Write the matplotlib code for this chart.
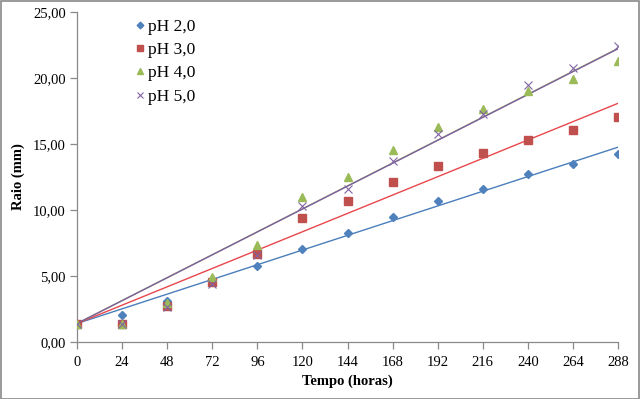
import numpy as np
import matplotlib
matplotlib.use("Agg")
import matplotlib.pyplot as plt
from matplotlib.ticker import FuncFormatter

hours = [0, 24, 48, 72, 96, 120, 144, 168, 192, 216, 240, 264, 288]
ph20 = [1.40, 2.07, 3.13, 4.62, 5.76, 7.02, 8.28, 9.44, 10.71, 11.57, 12.70, 13.51, 14.27]
ph30 = [1.40, 1.40, 2.75, 4.52, 6.69, 9.39, 10.68, 12.12, 13.36, 14.32, 15.28, 16.03, 17.07]
ph40 = [1.40, 1.40, 2.98, 4.95, 7.37, 10.96, 12.52, 14.55, 16.31, 17.65, 19.04, 19.95, 21.31]
ph50 = [1.40, 1.40, 2.68, 4.37, 6.60, 10.30, 11.61, 13.71, 15.76, 17.27, 19.47, 20.73, 22.42]
labels = ["pH 2,0", "pH 3,0", "pH 4,0", "pH 5,0"]
intercept = 1.40

plt.rcParams['font.family'] = ['Liberation Serif', 'DejaVu Serif']

fig = plt.figure(figsize=(6.4, 3.99), dpi=100)
ax = fig.add_axes([77/640, 1-342/399, (618-77)/640, (342-12)/399])

mcolors = ['#4F81BD', '#C0504D', '#9BBB59', '#8064A2']
lcolors = ['#4A7EBB', '#E8474B', '#98B954', '#7E5FA3']
markers = ['D', 's', '^', 'x']
msizes = [4.2, 5.5, 5.5, 5.5]
x = np.array(hours, dtype=float)
series = [ph20, ph30, ph40, ph50]
order = [0, 1, 2, 3]
for i in order:
    y = np.array(series[i])
    slope = np.sum(x * (y - intercept)) / np.sum(x * x)
    xx = np.array([0, 288.0])
    ax.plot(xx, intercept + slope * xx, color=lcolors[i], lw=1.0, zorder=2)
for i in order:
    if markers[i] == 'x':
        ax.plot(hours, series[i], linestyle='none', marker='x', ms=msizes[i],
                mew=0.8, color=mcolors[i], label=labels[i], zorder=3)
    else:
        ax.plot(hours, series[i], linestyle='none', marker=markers[i], ms=msizes[i],
                mec=mcolors[i], mfc=mcolors[i], color=mcolors[i], label=labels[i], zorder=3)

ax.set_xlim(0, 288)
ax.set_ylim(0, 25)
ax.set_xticks(hours)
ax.set_yticks([0, 5, 10, 15, 20, 25])
ax.yaxis.set_major_formatter(FuncFormatter(lambda v, p: f"{v:.2f}".replace('.', ',')))
for s in ['top', 'right']:
    ax.spines[s].set_visible(False)
for s in ['left', 'bottom']:
    ax.spines[s].set_color('#898989')
    ax.spines[s].set_linewidth(0.9)
ax.tick_params(axis='both', direction='out', length=5, width=0.9, color='#898989',
               labelsize=10.5, labelcolor='black')
ax.tick_params(axis='x', pad=5)
ax.tick_params(axis='y', pad=3)
ax.set_xlabel("Tempo (horas)", fontsize=10.5, fontweight='bold', labelpad=4)
ax.set_ylabel("Raio (mm)", fontsize=10.5, fontweight='bold', labelpad=6)

leg = ax.legend(loc='upper left', bbox_to_anchor=(48/541, 1.012), frameon=False,
                fontsize=12.5, handlelength=0.5, handletextpad=0.25, labelspacing=0.42,
                borderaxespad=0.2, markerscale=0.8)

fig.patches.append(matplotlib.patches.Rectangle((0.5/640, 0.5/399), 1-1.5/640, 1-1.5/399,
                   transform=fig.transFigure, fill=False, edgecolor='#898989', lw=1.2))
fig.savefig("out.png", dpi=100)
